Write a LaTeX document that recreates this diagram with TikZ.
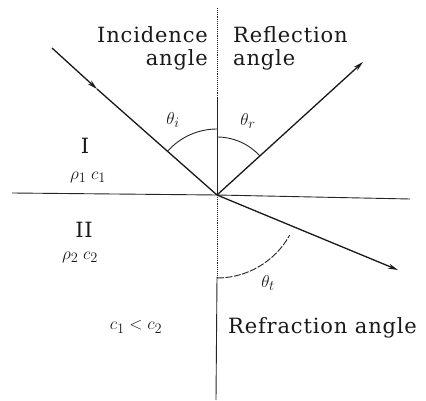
\documentclass[tikz,border=0pt]{standalone}
\usepackage{fontspec}
\setmainfont{DejaVu Serif}
\newfontfamily\lblfont[LetterSpace=4]{DejaVu Serif}
\usetikzlibrary{arrows.meta,calc}
\begin{document}
\begin{tikzpicture}[x=1pt,y=-1pt,
  ray/.style={draw=black!90,line width=1.3pt},
  axis/.style={draw=black!85,line width=0.9pt},
  arcline/.style={draw=black!85,line width=0.9pt},
  lbl/.style={font=\lblfont\fontsize{21}{23}\selectfont,inner sep=0pt,text=black!90},
  sym/.style={font=\fontsize{19}{21}\selectfont,inner sep=0pt,text=black!90},
  tip/.style={-{Stealth[length=10pt,width=5pt]}}]
\useasboundingbox (0,0) rectangle (426,401);
\fill[white] (0,0) rectangle (426,401);
% key points
\coordinate (O) at (217,195);
\coordinate (L) at (12,193);
\coordinate (R) at (410,199);
\coordinate (T) at (217,8);
\coordinate (B) at (216,400);
\coordinate (S) at (52,48);
\coordinate (M) at (97,89);
\coordinate (E) at (363,62);
\coordinate (F) at (398,270);
\coordinate (Tm) at (217,98);
\coordinate (Bm) at (217,277);
% interface
\draw[axis] (L) -- (O) -- (R);
% normal
\draw[axis,densely dotted] (T) -- (Tm);
\draw[axis] (Tm) -- (O);
\draw[axis,densely dotted] (O) -- (Bm);
\draw[axis] (Bm) -- (B);
% rays
\draw[ray,tip] (S) -- (M);
\draw[ray] (M) -- (O);
\draw[ray,tip] (O) -- (E);
\draw[ray,tip] (O) -- (F);
% arcs
\draw[arcline] ($(O)+(0,-66)$) arc[start angle=-90,end angle=-138.3,radius=66];
\draw[arcline] ($(O)+(0,-58)$) arc[start angle=-90,end angle=-42.3,radius=58];
\draw[arcline,dash pattern=on 7pt off 1.5pt] ($(O)+(0,83)$) arc[start angle=90,end angle=29,radius=83];
% labels
\node[lbl,anchor=east] (inc) at (208,35) {Incidence};
\node[lbl,anchor=east] (inca) at (208,60) {angle};
\node[lbl,anchor=west] (ref) at (233,35) {Reflection};
\node[lbl,anchor=west] (refa) at (233,60) {angle};
\node[sym] (thi) at (173,120) {$\theta_{i}$};
\node[sym] (thr) at (248,121) {$\theta_{r}$};
\node[lbl] (m1) at (85,146) {I};
\node[sym] (rc1) at (88,177) {$\rho_1\;c_1$};
\node[lbl] (m2) at (84,230) {II};
\node[sym] (rc2) at (80,257) {$\rho_2\;c_2$};
\node[sym] (tht) at (268,283) {$\theta_{t}$};
\node[sym] (cc) at (136,327) {$c_1 < c_2$};
\node[lbl,anchor=west] (rfa) at (228,328) {Refraction angle};
\end{tikzpicture}
\end{document}
